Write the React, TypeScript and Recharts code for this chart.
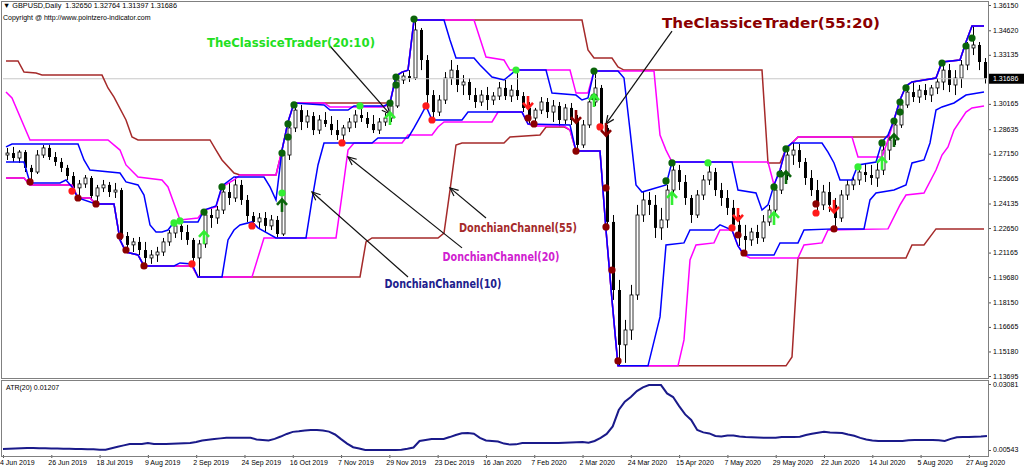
import React from "react";
import { ComposedChart, Bar, Line, XAxis, YAxis, ReferenceLine, ReferenceDot } from "recharts";

// GBPUSD daily, one candle per two sessions, Jun 2019 - Sep 2020
const opens = [
  1.2707, 1.2719, 1.2689, 1.2725, 1.2629, 1.2604, 1.2707, 1.2750, 1.2695, 1.2665,
  1.2629, 1.2580, 1.2508, 1.2532, 1.2568, 1.2459, 1.2508, 1.2526, 1.2483, 1.2495,
  1.2217, 1.2163, 1.2181, 1.2132, 1.2084, 1.2102, 1.2120, 1.2181, 1.2235, 1.2278,
  1.2241, 1.2193, 1.2084, 1.2169, 1.2344, 1.2326, 1.2374, 1.2483, 1.2447, 1.2526,
  1.2435, 1.2338, 1.2302, 1.2326, 1.2278, 1.2314, 1.2229, 1.2707, 1.2871, 1.2979,
  1.2907, 1.2943, 1.2858, 1.2919, 1.2895, 1.2858, 1.2828, 1.2871, 1.2907, 1.2949,
  1.2931, 1.2895, 1.2858, 1.2907, 1.2931, 1.3004, 1.3161, 1.3185, 1.3173, 1.3464,
  1.3282, 1.3070, 1.2967, 1.3040, 1.3173, 1.3221, 1.3131, 1.3149, 1.3070, 1.3028,
  1.3070, 1.3040, 1.3064, 1.3113, 1.3064, 1.3100, 1.3064, 1.2992, 1.2931, 1.2979,
  1.3028, 1.2967, 1.3004, 1.2919, 1.2992, 1.2919, 1.2768, 1.2889, 1.3028, 1.3113,
  1.2871, 1.2302, 1.1890, 1.1558, 1.1648, 1.1860, 1.2344, 1.2435, 1.2405, 1.2266,
  1.2314, 1.2495, 1.2616, 1.2544, 1.2447, 1.2344, 1.2465, 1.2556, 1.2604, 1.2495,
  1.2447, 1.2387, 1.2284, 1.2217, 1.2193, 1.2241, 1.2205, 1.2302, 1.2374, 1.2495,
  1.2586, 1.2707, 1.2737, 1.2665, 1.2568, 1.2495, 1.2405, 1.2483, 1.2405, 1.2326,
  1.2465, 1.2526, 1.2556, 1.2604, 1.2586, 1.2568, 1.2616, 1.2737, 1.2798, 1.2889,
  1.3010, 1.3088, 1.3058, 1.3100, 1.3070, 1.3113, 1.3149, 1.3221, 1.3131, 1.3173,
  1.3252, 1.3355, 1.3373, 1.3270,
];
const highs = [
  1.2750, 1.2756, 1.2737, 1.2737, 1.2647, 1.2737, 1.2768, 1.2768, 1.2725, 1.2689,
  1.2647, 1.2604, 1.2556, 1.2586, 1.2580, 1.2526, 1.2556, 1.2544, 1.2538, 1.2508,
  1.2241, 1.2205, 1.2211, 1.2181, 1.2132, 1.2151, 1.2205, 1.2253, 1.2302, 1.2302,
  1.2284, 1.2205, 1.2193, 1.2374, 1.2393, 1.2399, 1.2520, 1.2538, 1.2574, 1.2556,
  1.2465, 1.2362, 1.2356, 1.2362, 1.2344, 1.2338, 1.2737, 1.2907, 1.3022, 1.3010,
  1.2979, 1.2967, 1.2949, 1.2967, 1.2943, 1.2919, 1.2889, 1.2931, 1.2979, 1.3010,
  1.2967, 1.2949, 1.2931, 1.2961, 1.3022, 1.3185, 1.3209, 1.3221, 1.3524, 1.3476,
  1.3312, 1.3100, 1.3070, 1.3209, 1.3282, 1.3252, 1.3191, 1.3173, 1.3113, 1.3100,
  1.3119, 1.3088, 1.3149, 1.3161, 1.3131, 1.3221, 1.3088, 1.3028, 1.2992, 1.3058,
  1.3052, 1.3040, 1.3028, 1.3016, 1.3022, 1.2949, 1.2919, 1.3052, 1.3215, 1.3131,
  1.2889, 1.2344, 1.1951, 1.1709, 1.1921, 1.2405, 1.2483, 1.2483, 1.2465, 1.2387,
  1.2526, 1.2665, 1.2647, 1.2586, 1.2465, 1.2495, 1.2586, 1.2665, 1.2629, 1.2538,
  1.2495, 1.2435, 1.2344, 1.2284, 1.2266, 1.2284, 1.2344, 1.2405, 1.2526, 1.2616,
  1.2750, 1.2780, 1.2774, 1.2689, 1.2616, 1.2556, 1.2526, 1.2544, 1.2447, 1.2495,
  1.2556, 1.2586, 1.2647, 1.2659, 1.2647, 1.2665, 1.2786, 1.2828, 1.2919, 1.3040,
  1.3125, 1.3149, 1.3131, 1.3137, 1.3131, 1.3173, 1.3270, 1.3258, 1.3221, 1.3282,
  1.3391, 1.3488, 1.3391, 1.3294,
];
const lows = [
  1.2677, 1.2665, 1.2659, 1.2604, 1.2538, 1.2592, 1.2689, 1.2677, 1.2641, 1.2604,
  1.2556, 1.2514, 1.2447, 1.2508, 1.2435, 1.2411, 1.2483, 1.2453, 1.2447, 1.2193,
  1.2120, 1.2120, 1.2102, 1.2036, 1.2048, 1.2060, 1.2096, 1.2157, 1.2205, 1.2193,
  1.2163, 1.2048, 1.1969, 1.2145, 1.2266, 1.2290, 1.2350, 1.2405, 1.2423, 1.2405,
  1.2302, 1.2266, 1.2266, 1.2241, 1.2253, 1.2205, 1.2217, 1.2677, 1.2846, 1.2858,
  1.2871, 1.2828, 1.2834, 1.2877, 1.2828, 1.2798, 1.2780, 1.2846, 1.2871, 1.2907,
  1.2871, 1.2840, 1.2834, 1.2883, 1.2907, 1.2992, 1.3137, 1.3149, 1.3161, 1.3221,
  1.3004, 1.2919, 1.2943, 1.3016, 1.3131, 1.3088, 1.3070, 1.3040, 1.2992, 1.3004,
  1.2979, 1.3010, 1.3040, 1.3040, 1.3028, 1.3040, 1.2967, 1.2895, 1.2907, 1.2955,
  1.2931, 1.2907, 1.2877, 1.2895, 1.2889, 1.2731, 1.2750, 1.2871, 1.3004, 1.2846,
  1.2253, 1.1830, 1.1431, 1.1449, 1.1588, 1.1830, 1.2302, 1.2344, 1.2205, 1.2193,
  1.2266, 1.2465, 1.2495, 1.2405, 1.2296, 1.2326, 1.2435, 1.2526, 1.2459, 1.2399,
  1.2344, 1.2253, 1.2157, 1.2102, 1.2157, 1.2169, 1.2181, 1.2278, 1.2350, 1.2471,
  1.2556, 1.2647, 1.2629, 1.2526, 1.2459, 1.2356, 1.2374, 1.2362, 1.2260, 1.2302,
  1.2435, 1.2495, 1.2526, 1.2544, 1.2526, 1.2514, 1.2586, 1.2677, 1.2768, 1.2871,
  1.2992, 1.3028, 1.3022, 1.3040, 1.3028, 1.3076, 1.3100, 1.3088, 1.3070, 1.3113,
  1.3221, 1.3312, 1.3221, 1.3140,
];
const closes = [
  1.2719, 1.2689, 1.2725, 1.2629, 1.2604, 1.2707, 1.2750, 1.2695, 1.2665, 1.2629,
  1.2580, 1.2508, 1.2532, 1.2568, 1.2459, 1.2508, 1.2526, 1.2483, 1.2495, 1.2217,
  1.2163, 1.2181, 1.2132, 1.2084, 1.2102, 1.2120, 1.2181, 1.2235, 1.2278, 1.2241,
  1.2193, 1.2084, 1.2169, 1.2344, 1.2326, 1.2374, 1.2483, 1.2447, 1.2526, 1.2435,
  1.2338, 1.2302, 1.2326, 1.2278, 1.2314, 1.2229, 1.2707, 1.2871, 1.2979, 1.2907,
  1.2943, 1.2858, 1.2919, 1.2895, 1.2858, 1.2828, 1.2871, 1.2907, 1.2949, 1.2931,
  1.2895, 1.2858, 1.2907, 1.2931, 1.3004, 1.3161, 1.3185, 1.3173, 1.3464, 1.3282,
  1.3070, 1.2967, 1.3040, 1.3173, 1.3221, 1.3131, 1.3149, 1.3070, 1.3028, 1.3070,
  1.3040, 1.3064, 1.3113, 1.3064, 1.3100, 1.3064, 1.2992, 1.2931, 1.2979, 1.3028,
  1.2967, 1.3004, 1.2919, 1.2992, 1.2919, 1.2768, 1.2889, 1.3028, 1.3113, 1.2871,
  1.2302, 1.1890, 1.1558, 1.1648, 1.1860, 1.2344, 1.2435, 1.2405, 1.2266, 1.2314,
  1.2495, 1.2616, 1.2544, 1.2447, 1.2344, 1.2465, 1.2556, 1.2604, 1.2495, 1.2447,
  1.2387, 1.2284, 1.2217, 1.2193, 1.2241, 1.2205, 1.2302, 1.2374, 1.2495, 1.2586,
  1.2707, 1.2737, 1.2665, 1.2568, 1.2495, 1.2405, 1.2483, 1.2405, 1.2326, 1.2465,
  1.2526, 1.2556, 1.2604, 1.2586, 1.2568, 1.2616, 1.2737, 1.2798, 1.2889, 1.3010,
  1.3088, 1.3058, 1.3100, 1.3070, 1.3113, 1.3149, 1.3221, 1.3131, 1.3173, 1.3252,
  1.3355, 1.3373, 1.3270, 1.3169,
];
const atr20 = [
  0.0058, 0.0059, 0.0060, 0.0061, 0.0062, 0.0062, 0.0061, 0.0061, 0.0060, 0.0060,
  0.0059, 0.0059, 0.0058, 0.0058, 0.0057, 0.0057, 0.0055, 0.0055, 0.0061, 0.0067,
  0.0072, 0.0077, 0.0077, 0.0077, 0.0081, 0.0077, 0.0077, 0.0077, 0.0078, 0.0079,
  0.0080, 0.0081, 0.0085, 0.0091, 0.0094, 0.0097, 0.0099, 0.0101, 0.0101, 0.0101,
  0.0101, 0.0101, 0.0095, 0.0093, 0.0091, 0.0097, 0.0106, 0.0116, 0.0124, 0.0126,
  0.0129, 0.0131, 0.0131, 0.0129, 0.0125, 0.0114, 0.0096, 0.0079, 0.0065, 0.0060,
  0.0054, 0.0054, 0.0054, 0.0054, 0.0054, 0.0054, 0.0055, 0.0059, 0.0064, 0.0089,
  0.0093, 0.0097, 0.0097, 0.0097, 0.0104, 0.0112, 0.0119, 0.0120, 0.0117, 0.0101,
  0.0091, 0.0089, 0.0087, 0.0079, 0.0075, 0.0076, 0.0081, 0.0081, 0.0081, 0.0081,
  0.0081, 0.0081, 0.0081, 0.0082, 0.0083, 0.0084, 0.0085, 0.0082, 0.0089, 0.0101,
  0.0116, 0.0145, 0.0208, 0.0240, 0.0258, 0.0281, 0.0295, 0.0304, 0.0304, 0.0304,
  0.0272, 0.0258, 0.0223, 0.0191, 0.0170, 0.0131, 0.0122, 0.0118, 0.0108, 0.0106,
  0.0110, 0.0110, 0.0106, 0.0104, 0.0103, 0.0102, 0.0101, 0.0101, 0.0101, 0.0104,
  0.0104, 0.0104, 0.0105, 0.0112, 0.0117, 0.0121, 0.0124, 0.0122, 0.0121, 0.0120,
  0.0114, 0.0109, 0.0101, 0.0095, 0.0091, 0.0089, 0.0089, 0.0089, 0.0089, 0.0089,
  0.0092, 0.0093, 0.0093, 0.0093, 0.0093, 0.0092, 0.0089, 0.0097, 0.0103, 0.0104,
  0.0104, 0.0105, 0.0106, 0.0108,
];

const dateLabels = [
  "4 Jun 2019", "26 Jun 2019", "18 Jul 2019", "9 Aug 2019", "2 Sep 2019", "24 Sep 2019",
  "16 Oct 2019", "7 Nov 2019", "29 Nov 2019", "23 Dec 2019", "16 Jan 2020", "7 Feb 2020",
  "2 Mar 2020", "24 Mar 2020", "15 Apr 2020", "7 May 2020", "29 May 2020", "22 Jun 2020",
  "14 Jul 2020", "5 Aug 2020", "27 Aug 2020",
];
const priceTicks = [
  1.3615, 1.3462, 1.33135, 1.31686, 1.30165, 1.28635, 1.2715, 1.25665,
  1.24135, 1.2265, 1.21165, 1.1968, 1.1815, 1.16665, 1.1518, 1.13695,
];
const lastPrice = 1.31686;
const atrTicks = [0.00543, 0.03081];

// Donchian channel corners: [bar, price]
const dc55Upper = [[0,1.3276],[2,1.3276],[3,1.3209],[5,1.3203],[6,1.3191],[16,1.3191],[17,1.3113],[18,1.3058],[20,1.2919],[21,1.2816],[22,1.2798],[34,1.2798],[35,1.2737],[36,1.2677],[38,1.2598],[39,1.2586],[45,1.2586],[46,1.2737],[47,1.2907],[48,1.3022],[64,1.3022],[65,1.3185],[66,1.3209],[67,1.3221],[68,1.3524],[96,1.3524],[97,1.3343],[98,1.3294],[101,1.3294],[102,1.3240],[103,1.3221],[126,1.3221],[127,1.2659],[129,1.2659],[130,1.2744],[131,1.2780],[132,1.2816],[147,1.2816],[148,1.2919],[149,1.3040],[150,1.3125],[151,1.3149],[155,1.3173],[156,1.3270],[159,1.3282],[160,1.3391],[161,1.3488],[163,1.3488]];
const dc55Lower = [[0,1.2568],[3,1.2568],[4,1.2526],[11,1.2526],[12,1.2447],[14,1.2447],[15,1.2411],[18,1.2411],[19,1.2193],[20,1.2120],[22,1.2102],[23,1.2036],[31,1.2036],[32,1.1969],[59,1.1969],[60,1.2181],[61,1.2205],[72,1.2205],[73,1.2235],[74,1.2495],[75,1.2768],[76,1.2780],[83,1.2780],[84,1.2816],[89,1.2828],[90,1.2877],[93,1.2877],[94,1.2858],[95,1.2731],[99,1.2731],[100,1.2253],[101,1.1830],[102,1.1431],[130,1.1431],[131,1.1485],[132,1.2084],[150,1.2084],[151,1.2163],[153,1.2163],[155,1.2260],[163,1.2260]];
const dc20Upper = [[0,1.3088],[1,1.3052],[4,1.2798],[17,1.2798],[19,1.2737],[20,1.2647],[22,1.2574],[26,1.2556],[27,1.2514],[29,1.2314],[32,1.2326],[33,1.2374],[35,1.2393],[36,1.2514],[38,1.2556],[39,1.2586],[45,1.2586],[46,1.2737],[47,1.2907],[48,1.3022],[53,1.3022],[54,1.2998],[63,1.2998],[64,1.3022],[65,1.3185],[66,1.3209],[67,1.3221],[68,1.3524],[78,1.3524],[80,1.3300],[83,1.3282],[84,1.3221],[94,1.3221],[95,1.3082],[97,1.3082],[98,1.3215],[108,1.3215],[109,1.2828],[110,1.2737],[111,1.2665],[127,1.2665],[128,1.2526],[129,1.2616],[130,1.2750],[131,1.2780],[132,1.2816],[141,1.2816],[142,1.2695],[146,1.2695],[147,1.2798],[148,1.2919],[149,1.3040],[150,1.3125],[151,1.3149],[155,1.3173],[156,1.3270],[159,1.3282],[160,1.3391],[161,1.3488],[163,1.3488]];
const dc20Lower = [[0,1.2568],[3,1.2568],[4,1.2526],[11,1.2526],[12,1.2447],[14,1.2447],[15,1.2411],[18,1.2411],[19,1.2193],[20,1.2120],[22,1.2102],[23,1.2036],[31,1.2036],[32,1.1969],[41,1.1969],[43,1.2205],[55,1.2205],[56,1.2465],[57,1.2737],[58,1.2780],[66,1.2780],[67,1.2828],[71,1.2828],[72,1.2877],[73,1.2907],[81,1.2907],[82,1.2967],[86,1.2967],[87,1.2895],[88,1.2883],[93,1.2883],[94,1.2858],[95,1.2731],[99,1.2731],[100,1.2253],[101,1.1830],[102,1.1431],[112,1.1431],[113,1.1588],[114,1.2072],[115,1.2163],[118,1.2175],[119,1.2253],[121,1.2253],[122,1.2157],[123,1.2102],[124,1.2084],[132,1.2084],[133,1.2163],[136,1.2175],[137,1.2253],[147,1.2260],[149,1.2405],[150,1.2465],[153,1.2477],[155,1.2616],[156,1.2707],[157,1.2756],[158,1.2858],[160,1.2967],[161,1.2992],[163,1.3004]];
const dc10Upper = [[0,1.2756],[1,1.2774],[12,1.2774],[13,1.2677],[14,1.2616],[19,1.2598],[20,1.2544],[22,1.2526],[23,1.2465],[24,1.2284],[25,1.2241],[26,1.2241],[27,1.2253],[28,1.2302],[32,1.2302],[33,1.2374],[35,1.2399],[36,1.2520],[38,1.2574],[43,1.2574],[44,1.2514],[45,1.2435],[46,1.2737],[47,1.2907],[48,1.3022],[53,1.3010],[54,1.2979],[57,1.2979],[58,1.3004],[63,1.3004],[64,1.3022],[65,1.3185],[66,1.3209],[67,1.3221],[68,1.3524],[73,1.3524],[74,1.3403],[75,1.3294],[78,1.3294],[79,1.3252],[81,1.3179],[83,1.3161],[84,1.3191],[85,1.3221],[90,1.3221],[91,1.3082],[95,1.3070],[96,1.3040],[97,1.3052],[98,1.3215],[102,1.3215],[103,1.3173],[104,1.2858],[105,1.2526],[106,1.2483],[110,1.2526],[111,1.2665],[121,1.2665],[122,1.2495],[125,1.2477],[126,1.2374],[127,1.2405],[128,1.2526],[129,1.2616],[130,1.2750],[131,1.2780],[136,1.2780],[137,1.2725],[138,1.2659],[139,1.2556],[141,1.2556],[142,1.2647],[145,1.2665],[146,1.2786],[147,1.2828],[148,1.2919],[149,1.3040],[150,1.3125],[151,1.3149],[155,1.3173],[156,1.3270],[159,1.3282],[160,1.3391],[161,1.3488],[163,1.3488]];
const dc10Lower = [[0,1.2665],[3,1.2665],[4,1.2538],[9,1.2538],[10,1.2556],[11,1.2514],[12,1.2447],[15,1.2411],[18,1.2411],[19,1.2193],[20,1.2120],[22,1.2102],[23,1.2036],[28,1.2036],[29,1.2054],[31,1.2048],[32,1.1969],[36,1.1969],[37,1.2193],[38,1.2253],[39,1.2284],[41,1.2302],[42,1.2266],[45,1.2205],[50,1.2205],[51,1.2435],[52,1.2647],[53,1.2780],[61,1.2780],[62,1.2810],[67,1.2810],[68,1.2871],[69,1.2937],[70,1.3004],[71,1.2919],[76,1.2919],[77,1.2967],[86,1.2967],[87,1.2895],[94,1.2889],[95,1.2731],[99,1.2731],[100,1.2253],[101,1.1830],[102,1.1431],[107,1.1431],[109,1.1727],[110,1.2163],[113,1.2175],[114,1.2253],[118,1.2253],[119,1.2284],[121,1.2253],[122,1.2157],[123,1.2102],[128,1.2102],[129,1.2175],[132,1.2175],[133,1.2253],[138,1.2260],[143,1.2260],[144,1.2435],[145,1.2477],[148,1.2495],[150,1.2526],[151,1.2659],[153,1.2677],[154,1.2780],[155,1.2979],[156,1.2998],[158,1.3022],[160,1.3070],[163,1.3088]];

// TheClassiceTrader signals: [bar, price]
const darkGreenDots = [[33,1.2362],[36,1.2514],[46,1.2719],[47,1.2816],[47,1.2895],[48,1.3010],[64,1.3022],[65,1.3131],[65,1.3179],[68,1.3530],[98,1.3058],[98,1.3215],[110,1.2550],[111,1.2659],[128,1.2514],[129,1.2592],[130,1.2744],[146,1.2780],[148,1.2913],[149,1.2967],[149,1.3028],[150,1.3113],[156,1.3264],[160,1.3367],[161,1.3415]];
const lightGreenDots = [[28,1.2296],[29,1.2308],[46,1.2477],[59,1.3004],[85,1.3221],[117,1.2659],[142,1.2635]];
const redDots = [[11,1.2489],[31,1.2048],[41,1.2278],[56,1.2780],[70,1.3004],[71,1.2919],[99,1.2877],[121,1.2266],[135,1.2356]];
const darkRedDots = [[4,1.2544],[12,1.2447],[15,1.2411],[19,1.2217],[20,1.2132],[23,1.2036],[87,1.2931],[88,1.2895],[95,1.2731],[100,1.2508],[100,1.2272],[101,1.2011],[102,1.1461],[122,1.2223],[123,1.2114],[135,1.2411],[138,1.2260]];
const upArrowsLight = [[33,1.2211],[64,1.2931],[98,1.3040],[111,1.2447],[128,1.2326],[146,1.2659]];
const upArrowsDark = [[46,1.2405],[130,1.2574],[148,1.2798]];
const downArrowsRed = [[87,1.3022],[122,1.2344],[138,1.2393]];
const downArrowsDark = [[95,1.2937],[100,1.2858]];

const rows: any[] = opens.map((o, j) => ({
  j, o, h: highs[j], l: lows[j], c: closes[j],
  range: [lows[j], highs[j]], atr: atr20[j],
  dc55u: null, dc55l: null, dc20u: null, dc20l: null, dc10u: null, dc10l: null,
}));
const put = (key: string, pts: number[][]) => pts.forEach(([j, v]) => { rows[j][key] = v; });
put("dc55u", dc55Upper); put("dc55l", dc55Lower);
put("dc20u", dc20Upper); put("dc20l", dc20Lower);
put("dc10u", dc10Upper); put("dc10l", dc10Lower);

const AXIS_FONT = '"Liberation Sans", Arial, sans-serif';
const NOTE_FONT = '"Comic Sans MS", "DejaVu Sans", sans-serif';

const Candle = (props: any) => {
  const { x, y, width, height, payload } = props;
  if (!payload || height == null) return <g />;
  const top = Math.min(y, y + height);
  const hgt = Math.abs(height);
  const { o, h, l, c } = payload;
  const span = h - l;
  const toY = (v: number) => top + (span > 0 ? ((h - v) / span) * hgt : 0);
  const cx = Math.round(x + width / 2) + 0.5;
  const yTop = toY(Math.max(o, c));
  const yBot = toY(Math.min(o, c));
  const up = c >= o;
  return (
    <g>
      <line x1={cx} x2={cx} y1={top} y2={top + hgt} stroke="#000" strokeWidth={1} />
      <rect x={cx - 1.5} y={yTop} width={3} height={Math.max(1, yBot - yTop)}
        fill={up ? "#fff" : "#000"} stroke="#000" strokeWidth={up ? 0.8 : 0} />
    </g>
  );
};

const PriceTick = (props: any) => {
  const { x, y, payload } = props;
  const v = payload.value;
  if (v === lastPrice) {
    return (
      <g>
        <rect x={x + 2} y={y - 5} width={36} height={10} fill="#000" />
        <text x={x + 6} y={y + 2.5} fontSize={7} fontFamily={AXIS_FONT} fill="#fff">{v.toFixed(5)}</text>
      </g>
    );
  }
  return (
    <g>
      <line x1={x + 2} x2={x + 4} y1={y + 0.5} y2={y + 0.5} stroke="#555" />
      <text x={x + 6} y={y + 2.5} fontSize={7} fontFamily={AXIS_FONT} fill="#000">{v.toFixed(5)}</text>
    </g>
  );
};

const DateTick = (props: any) => {
  const { x, y, payload } = props;
  const label = dateLabels[Math.round(payload.value / 8)];
  return (
    <g>
      <line x1={x + 0.5} x2={x + 0.5} y1={y} y2={y + 3} stroke="#555" />
      <text x={x - 3} y={y + 10} fontSize={7} fontFamily={AXIS_FONT} fill="#000">{label}</text>
    </g>
  );
};

const dotShape = (color: string) => (p: any) => <circle cx={p.cx} cy={p.cy} r={3.6} fill={color} />;

const upArrow = (color: string) => (p: any) => (
  <g stroke={color} strokeWidth={2.6} fill="none">
    <path d={`M${p.cx - 5},${p.cy} L${p.cx},${p.cy - 5.5} L${p.cx + 5},${p.cy}`} />
    <line x1={p.cx} y1={p.cy - 5} x2={p.cx} y2={p.cy + 7} />
  </g>
);
const downArrow = (color: string) => (p: any) => (
  <g stroke={color} strokeWidth={2.6} fill="none">
    <path d={`M${p.cx - 5},${p.cy} L${p.cx},${p.cy + 5.5} L${p.cx + 5},${p.cy}`} />
    <line x1={p.cx} y1={p.cy + 5} x2={p.cx} y2={p.cy - 7} />
  </g>
);

const pointer = (p: any) => {
  const { x1, y1, x2, y2 } = p;
  const a = Math.atan2(y2 - y1, x2 - x1);
  const L = 9, s = 0.42;
  const ax = x2 - L * Math.cos(a - s), ay = y2 - L * Math.sin(a - s);
  const bx = x2 - L * Math.cos(a + s), by = y2 - L * Math.sin(a + s);
  return (
    <g stroke="#111" strokeWidth={1.2} fill="none">
      <line x1={x1} y1={y1} x2={x2} y2={y2} />
      <polyline points={`${ax},${ay} ${x2},${y2} ${bx},${by}`} />
    </g>
  );
};

const note = (text: string, color: string, size: number, len: number, dx: number) => (p: any) => (
  <text x={p.cx + dx} y={p.cy + size * 0.36} textAnchor="middle" fill={color} fontSize={size}
    fontWeight="bold" fontFamily={NOTE_FONT} textLength={len} lengthAdjust="spacingAndGlyphs">{text}</text>
);

const markers = (pts: number[][], shape: any, key: string) =>
  pts.map(([j, v], i) => (
    <ReferenceDot key={key + i} x={j} y={v} r={3} shape={shape} ifOverflow="visible" />
  ));

export default function App() {
  return (
    <div style={{ position: "absolute", left: 0, top: 0, width: 1024, height: 471, background: "#fff", overflow: "hidden" }}>
      <div style={{ position: "absolute", left: 0, top: 0 }}>
        <ComposedChart width={1024} height={380} data={rows} margin={{ top: 2, right: 0, bottom: 2, left: 3 }}>
          <XAxis dataKey="j" hide />
          <YAxis orientation="right" width={37} domain={[1.13574, 1.36332]} allowDataOverflow
            ticks={priceTicks} interval={0} tick={<PriceTick />} tickSize={0} tickMargin={0}
            axisLine={false} tickLine={false} />
          <ReferenceLine y={lastPrice} stroke="#c8c8c8" strokeWidth={1} />
          <Line dataKey="dc55u" stroke="#a52a2a" strokeWidth={1.5} dot={false} connectNulls isAnimationActive={false} />
          <Line dataKey="dc55l" stroke="#a52a2a" strokeWidth={1.5} dot={false} connectNulls isAnimationActive={false} />
          <Line dataKey="dc20u" stroke="#ff00ff" strokeWidth={1.5} dot={false} connectNulls isAnimationActive={false} />
          <Line dataKey="dc20l" stroke="#ff00ff" strokeWidth={1.5} dot={false} connectNulls isAnimationActive={false} />
          <Line dataKey="dc10u" stroke="#0000ff" strokeWidth={1.5} dot={false} connectNulls isAnimationActive={false} />
          <Line dataKey="dc10l" stroke="#0000ff" strokeWidth={1.5} dot={false} connectNulls isAnimationActive={false} />
          <Bar dataKey="range" barSize={3} shape={<Candle />} isAnimationActive={false} />
          {markers(darkGreenDots, dotShape("#0a640a"), "dg")}
          {markers(lightGreenDots, dotShape("#33ee33"), "lg")}
          {markers(redDots, dotShape("#ff1a1a"), "rd")}
          {markers(darkRedDots, dotShape("#8b0000"), "dr")}
          {markers(upArrowsLight, upArrow("#33ee33"), "ul")}
          {markers(upArrowsDark, upArrow("#0a640a"), "ud")}
          {markers(downArrowsRed, downArrow("#ff1a1a"), "dd")}
          {markers(downArrowsDark, downArrow("#8b0000"), "dk")}
          <ReferenceLine segment={[{ x: 54, y: 1.3367 }, { x: 64, y: 1.2955 }]} shape={pointer} ifOverflow="visible" />
          <ReferenceLine segment={[{ x: 111, y: 1.3457 }, { x: 100, y: 1.2895 }]} shape={pointer} ifOverflow="visible" />
          <ReferenceLine segment={[{ x: 80, y: 1.2326 }, { x: 74, y: 1.2508 }]} shape={pointer} ifOverflow="visible" />
          <ReferenceLine segment={[{ x: 76, y: 1.2145 }, { x: 57, y: 1.2695 }]} shape={pointer} ifOverflow="visible" />
          <ReferenceLine segment={[{ x: 67, y: 1.1969 }, { x: 51, y: 1.2483 }]} shape={pointer} ifOverflow="visible" />
          <ReferenceDot x={47} y={1.3391} shape={note("TheClassiceTrader(20:10)", "#22e022", 13, 168, 3)} ifOverflow="visible" />
          <ReferenceDot x={127} y={1.3506} shape={note("TheClassiceTrader(55:20)", "#8b0000", 14, 218, 3)} ifOverflow="visible" />
          <ReferenceDot x={85} y={1.2266} shape={note("DonchianChannel(55)", "#a52a2a", 12, 118, 2)} ifOverflow="visible" />
          <ReferenceDot x={82} y={1.2090} shape={note("DonchianChannel(20)", "#d020d0", 12, 117, 3)} ifOverflow="visible" />
          <ReferenceDot x={73} y={1.1927} shape={note("DonchianChannel(10)", "#20208c", 12, 117, -1)} ifOverflow="visible" />
        </ComposedChart>
      </div>
      <div style={{ position: "absolute", left: 0, top: 380 }}>
        <ComposedChart width={1024} height={91} data={rows} margin={{ top: 1, right: 0, bottom: 0, left: 3 }}>
          <XAxis dataKey="j" ticks={dateLabels.map((_, k) => k * 8)} interval={0} height={16}
            tick={<DateTick />} tickSize={0} tickMargin={0} axisLine={false} tickLine={false} />
          <YAxis orientation="right" width={37} domain={[0.003507, 0.031964]} allowDataOverflow
            ticks={atrTicks} interval={0} tick={<PriceTick />} tickSize={0} tickMargin={0}
            axisLine={false} tickLine={false} />
          <Line dataKey="atr" stroke="#1a1a8a" strokeWidth={2} dot={false} isAnimationActive={false} />
        </ComposedChart>
      </div>
      <div style={{ position: "absolute", left: 1, top: 1, width: 988, height: 378, border: "1px solid #808080", boxSizing: "border-box", pointerEvents: "none" }} />
      <div style={{ position: "absolute", left: 1, top: 380, width: 988, height: 77, border: "1px solid #808080", boxSizing: "border-box", pointerEvents: "none" }} />
      <div style={{ position: "absolute", left: 3, top: 1, fontFamily: AXIS_FONT, fontSize: 7.3, lineHeight: "10px", whiteSpace: "pre", color: "#000" }}>
        {"▼ GBPUSD,Daily  1.32650 1.32764 1.31397 1.31686"}
      </div>
      <div style={{ position: "absolute", left: 3, top: 13, fontFamily: AXIS_FONT, fontSize: 7, lineHeight: "10px", whiteSpace: "pre", color: "#000" }}>
        {"Copyright @ http://www.pointzero-indicator.com"}
      </div>
      <div style={{ position: "absolute", left: 6, top: 383, fontFamily: AXIS_FONT, fontSize: 7, lineHeight: "10px", whiteSpace: "pre", color: "#000" }}>
        {"ATR(20) 0.01207"}
      </div>
    </div>
  );
}
